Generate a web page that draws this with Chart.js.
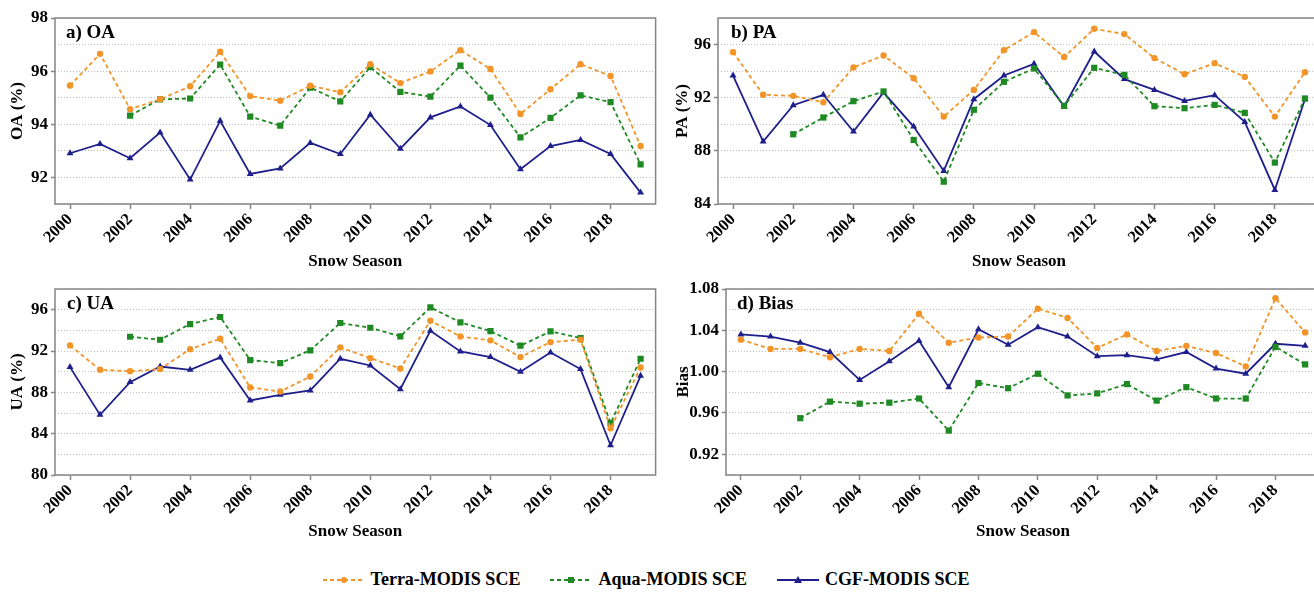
<!DOCTYPE html>
<html>
<head>
<meta charset="utf-8">
<script src="https://cdn.jsdelivr.net/npm/chart.js@4.4.1/dist/chart.umd.min.js"></script>
<style>
  html, body { margin: 0; padding: 0; background: #fff; width: 1314px; height: 594px; overflow: hidden; position: relative; }
  canvas.panel { position: absolute; }
  #legend {
    position: absolute; left: 0; top: 569px; width: 1292px;
    display: flex; justify-content: center; align-items: center; gap: 30px;
    font: bold 18px "Liberation Serif", "Times New Roman", serif; color: #000;
  }
  #legend .item { display: flex; align-items: center; gap: 6px; white-space: nowrap; }
</style>
</head>
<body>
<canvas id="pA" class="panel"></canvas>
<canvas id="pB" class="panel"></canvas>
<canvas id="pC" class="panel"></canvas>
<canvas id="pD" class="panel"></canvas>
<div id="legend"></div>

<script>
// Snow seasons and the years that get an axis label
const seasons   = [2000, 2001, 2002, 2003, 2004, 2005, 2006, 2007, 2008, 2009,
                   2010, 2011, 2012, 2013, 2014, 2015, 2016, 2017, 2018, 2019];
const yearTicks = [2000, 2002, 2004, 2006, 2008, 2010, 2012, 2014, 2016, 2018];

const seriesNames = ['Terra-MODIS SCE', 'Aqua-MODIS SCE', 'CGF-MODIS SCE'];

// Overall accuracy (%)
const terraOA = [95.46, 96.65, 94.57, 94.94, 95.43, 96.73, 95.06, 94.89, 95.45, 95.21,
                 96.26, 95.55, 95.99, 96.79, 96.08, 94.39, 95.32, 96.26, 95.82, 93.18];
const aquaOA  = [null, null, 94.33, 94.94, 94.97, 96.25, 94.29, 93.95, 95.38, 94.86,
                 96.15, 95.22, 95.04, 96.21, 95.00, 93.51, 94.24, 95.09, 94.83, 92.49];
const cgfOA   = [92.91, 93.26, 92.72, 93.69, 91.92, 94.13, 92.13, 92.34, 93.30, 92.88,
                 94.36, 93.08, 94.26, 94.67, 93.97, 92.31, 93.18, 93.41, 92.88, 91.43];

// Producer's accuracy (%)
const terraPA = [95.43, 92.22, 92.14, 91.66, 94.28, 95.18, 93.47, 90.58, 92.59, 95.58,
                 96.94, 95.06, 97.19, 96.79, 94.98, 93.77, 94.60, 93.57, 90.58, 93.92];
const aquaPA  = [null, null, 89.25, 90.51, 91.74, 92.47, 88.82, 85.68, 91.09, 93.20,
                 94.20, 91.39, 94.25, 93.72, 91.36, 91.21, 91.46, 90.86, 87.12, 91.94];
const cgfPA   = [93.67, 88.70, 91.44, 92.22, 89.45, 92.39, 89.83, 86.49, 91.89, 93.67,
                 94.55, 91.34, 95.48, 93.40, 92.59, 91.76, 92.19, 90.18, 85.06, 91.89];

// User's accuracy (%)
const terraUA = [92.54, 90.18, 90.05, 90.25, 92.18, 93.18, 88.47, 88.08, 89.53, 92.35,
                 91.31, 90.31, 94.93, 93.41, 93.03, 91.41, 92.86, 93.09, 84.52, 90.41];
const aquaUA  = [null, null, 93.38, 93.09, 94.61, 95.29, 91.12, 90.83, 92.06, 94.71,
                 94.25, 93.41, 96.22, 94.77, 93.93, 92.51, 93.90, 93.25, 85.01, 91.25];
const cgfUA   = [90.44, 85.82, 88.99, 90.50, 90.18, 91.38, 87.21, 87.76, 88.18, 91.25,
                 90.60, 88.31, 93.96, 91.96, 91.41, 89.99, 91.86, 90.25, 82.88, 89.60];

// Bias
const terraBias = [1.031, 1.022, 1.022, 1.014, 1.022, 1.020, 1.056, 1.028, 1.033, 1.034,
                   1.061, 1.052, 1.023, 1.036, 1.020, 1.025, 1.018, 1.005, 1.071, 1.038];
const aquaBias  = [null, null, 0.955, 0.971, 0.969, 0.970, 0.974, 0.943, 0.989, 0.984,
                   0.998, 0.977, 0.979, 0.988, 0.972, 0.985, 0.974, 0.974, 1.024, 1.007];
const cgfBias   = [1.036, 1.034, 1.028, 1.019, 0.992, 1.010, 1.030, 0.985, 1.041, 1.026,
                   1.043, 1.034, 1.015, 1.016, 1.012, 1.019, 1.003, 0.998, 1.027, 1.025];

// ---- styling ----
const SERIF = '"Liberation Serif", "Times New Roman", serif';
const seriesStyle = [
  { color: '#f29427', dash: [4, 3], point: 'circle',   radius: 3.2 },
  { color: '#1f8a23', dash: [4, 3], point: 'rect',     radius: 4.4 },
  { color: '#1f1f8c', dash: [],     point: 'triangle', radius: 4.0 }
];
const FRAME = '#858585';

// Box around the plot area and the panel caption in its corner
const framePlugin = {
  id: 'frame',
  afterDraw(chart, args, opts) {
    const { ctx, chartArea: a } = chart;
    ctx.save();
    ctx.strokeStyle = FRAME;
    ctx.lineWidth = 1.5;
    ctx.strokeRect(a.left, a.top, a.right - a.left, a.bottom - a.top);
    ctx.font = 'bold 19px ' + SERIF;
    ctx.fillStyle = '#000';
    ctx.textBaseline = 'alphabetic';
    ctx.textAlign = 'left';
    ctx.fillText(opts.label, a.left + opts.dx, a.top + 20);
    ctx.restore();
  }
};

function toPoints(values) {
  return values.map((v, i) => ({ x: seasons[i], y: v }));
}

function makePanel(p) {
  const cv = document.getElementById(p.id);
  cv.width = p.w; cv.height = p.h;
  cv.style.left = p.left + 'px'; cv.style.top = p.top + 'px';
  cv.style.width = p.w + 'px'; cv.style.height = p.h + 'px';

  const hundred = v => Math.round(v * 100);
  const labelled = v => hundred(v) % hundred(p.labelStep) === 0;

  const datasets = p.series.map((vals, i) => {
    const s = seriesStyle[i];
    return {
      label: seriesNames[i],
      data: toPoints(vals),
      borderColor: s.color,
      backgroundColor: s.color,
      borderWidth: 1.8,
      borderDash: s.dash,
      pointStyle: s.point,
      pointRadius: s.radius,
      pointBorderWidth: 0,
      pointBackgroundColor: s.color,
      tension: 0,
      spanGaps: false,
      order: i
    };
  });

  return new Chart(cv, {
    type: 'line',
    data: { datasets },
    plugins: [framePlugin],
    options: {
      responsive: false,
      animation: false,
      devicePixelRatio: 1,
      layout: { padding: { top: p.padTop, right: p.padRight, left: 0, bottom: 0 } },
      plugins: {
        legend: { display: false },
        tooltip: { enabled: false },
        frame: { label: p.caption, dx: p.captionDx }
      },
      scales: {
        x: {
          type: 'linear',
          min: 1999.5,
          max: 2019.5,
          afterBuildTicks: s => { s.ticks = yearTicks.map(v => ({ value: v })); },
          afterFit: s => { s.height = p.xAxisH; },
          border: { display: false },
          grid: { display: true, drawOnChartArea: false, drawTicks: true, tickLength: 5,
                  tickColor: FRAME, tickWidth: 1.5 },
          ticks: {
            autoSkip: false, minRotation: 45, maxRotation: 45, padding: 1,
            color: '#000',
            font: { family: SERIF, size: 16.5, weight: 'bold' },
            callback: v => String(v)
          },
          title: {
            display: true, text: 'Snow Season', color: '#000',
            font: { family: SERIF, size: 17, weight: 'bold', lineHeight: 1 },
            padding: { top: 0, bottom: 0 }
          }
        },
        y: {
          min: p.yMin,
          max: p.yMax,
          afterFit: s => { s.width = p.yAxisW; },
          border: { display: false, dash: [1, 2] },
          grid: {
            color: '#bfbfbf', lineWidth: 1, drawTicks: true, tickLength: 4, tickWidth: 1.5,
            tickColor: c => (c.tick && labelled(c.tick.value)) ? FRAME : 'rgba(0,0,0,0)'
          },
          ticks: {
            stepSize: p.yStep, autoSkip: false, padding: 3, color: '#000',
            font: { family: SERIF, size: 17, weight: 'bold' },
            callback: v => labelled(v) ? v.toFixed(p.decimals) : ''
          },
          title: {
            display: true, text: p.yTitle, color: '#000',
            font: { family: SERIF, size: 17, weight: 'bold', lineHeight: 1 },
            padding: { top: p.yTitlePad, bottom: 0 }
          }
        }
      }
    }
  });
}

makePanel({ id: 'pA', left: 0, top: 0, w: 660, h: 270, padTop: 18, padRight: 3,
            yAxisW: 55, xAxisH: 66, yMin: 91, yMax: 98, yStep: 1, labelStep: 2, decimals: 0,
            yTitle: 'OA (%)', yTitlePad: 9.5, caption: 'a) OA', captionDx: 11,
            series: [terraOA, aquaOA, cgfOA] });

makePanel({ id: 'pB', left: 660, top: 0, w: 670, h: 270, padTop: 18, padRight: 10,
            yAxisW: 58, xAxisH: 66, yMin: 84, yMax: 98, yStep: 2, labelStep: 4, decimals: 0,
            yTitle: 'PA (%)', yTitlePad: 14.5, caption: 'b) PA', captionDx: 13,
            series: [terraPA, aquaPA, cgfPA] });

makePanel({ id: 'pC', left: 0, top: 270, w: 660, h: 270, padTop: 19, padRight: 3,
            yAxisW: 55, xAxisH: 65, yMin: 80, yMax: 98, yStep: 2, labelStep: 4, decimals: 0,
            yTitle: 'UA (%)', yTitlePad: 9.5, caption: 'c) UA', captionDx: 12,
            series: [terraUA, aquaUA, cgfUA] });

makePanel({ id: 'pD', left: 660, top: 270, w: 670, h: 270, padTop: 19, padRight: 10,
            yAxisW: 66, xAxisH: 65, yMin: 0.90, yMax: 1.08, yStep: 0.02, labelStep: 0.04, decimals: 2,
            yTitle: 'Bias', yTitlePad: 15.5, caption: 'd) Bias', captionDx: 11,
            series: [terraBias, aquaBias, cgfBias] });

// Shared legend under the four panels
(function buildLegend() {
  const box = document.getElementById('legend');
  const NS = 'http://www.w3.org/2000/svg';
  seriesNames.forEach((name, i) => {
    const s = seriesStyle[i];
    const item = document.createElement('div');
    item.className = 'item';
    const svg = document.createElementNS(NS, 'svg');
    svg.setAttribute('width', '42'); svg.setAttribute('height', '12');
    const line = document.createElementNS(NS, 'line');
    line.setAttribute('x1', '0'); line.setAttribute('x2', '42');
    line.setAttribute('y1', '6'); line.setAttribute('y2', '6');
    line.setAttribute('stroke', s.color); line.setAttribute('stroke-width', '1.8');
    if (s.dash.length) line.setAttribute('stroke-dasharray', s.dash.join(' '));
    svg.appendChild(line);
    let mk;
    if (s.point === 'circle') {
      mk = document.createElementNS(NS, 'circle');
      mk.setAttribute('cx', '21'); mk.setAttribute('cy', '6'); mk.setAttribute('r', '3');
    } else if (s.point === 'rect') {
      mk = document.createElementNS(NS, 'rect');
      mk.setAttribute('x', '18'); mk.setAttribute('y', '3');
      mk.setAttribute('width', '6'); mk.setAttribute('height', '6');
    } else {
      mk = document.createElementNS(NS, 'polygon');
      mk.setAttribute('points', '21,2 25,9 17,9');
    }
    mk.setAttribute('fill', s.color);
    svg.appendChild(mk);
    const label = document.createElement('span');
    label.textContent = name;
    item.appendChild(svg);
    item.appendChild(label);
    box.appendChild(item);
  });
})();
</script>
</body>
</html>
